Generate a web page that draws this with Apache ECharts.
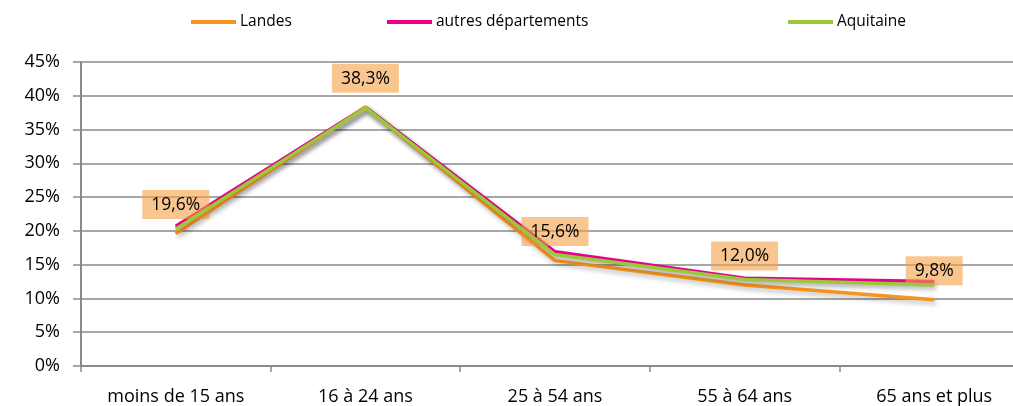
<!DOCTYPE html>
<html>
<head>
<meta charset="utf-8">
<script src="https://cdn.jsdelivr.net/npm/echarts@6/dist/echarts.min.js"></script>
<style>
	html, body { margin: 0; padding: 0; background: #fff; }
	#chart { width: 1013px; height: 406px; }
</style>
</head>
<body>
<div id="chart"></div>
<script>
// tranches d'age
let categories = ['moins de 15 ans', '16 à 24 ans', '25 à 54 ans', '55 à 64 ans', '65 ans et plus']
let landes = [19.6, 38.3, 15.6, 12.0, 9.8]
let autres = [20.7, 38.3, 16.9, 13.0, 12.5]
let aquitaine = [20.3, 38.2, 16.5, 12.8, 12.0]
let yTicks = [0, 5, 10, 15, 20, 25, 30, 35, 40, 45]

function _chartLine(id) {
	let font = 'Open Sans'
	let gray = '#8a8a8a'
	let shadow = {
		shadowColor: 'rgba(0,0,0,0.28)',
		shadowBlur: 5,
		shadowOffsetX: 2,
		shadowOffsetY: 3
	}
	function legendItem(name, left) {
		return {
			data: [name],
			left: left,
			top: 14,
			padding: 0,
			icon: 'rect',
			itemWidth: 45,
			itemHeight: 4,
			itemGap: 0,
			textStyle: { color: '#000', fontSize: 15.5, fontFamily: font, padding: [0, 0, 0, -1] }
		}
	}
	let option = {
		animation: false,
		grid: { left: 81, top: 62, width: 948, height: 304, outerBoundsMode: 'none' },
		legend: [
			legendItem('Landes', 191),
			legendItem('autres départements', 387),
			legendItem('Aquitaine', 788)
		],
		xAxis: {
			type: 'category',
			data: categories,
			boundaryGap: true,
			axisLine: { lineStyle: { color: gray, width: 2 } },
			axisTick: { show: true, length: 6, lineStyle: { color: gray, width: 1.5 } },
			axisLabel: { color: '#000', fontSize: 18, fontFamily: font, margin: 22 },
			splitLine: { show: false }
		},
		yAxis: {
			type: 'value',
			min: yTicks[0],
			max: yTicks[yTicks.length - 1],
			interval: 5,
			axisLine: { show: true, lineStyle: { color: gray, width: 2 } },
			axisTick: { show: true, length: 8, lineStyle: { color: gray, width: 1.5 } },
			axisLabel: {
				color: '#000',
				fontSize: 18,
				fontFamily: font,
				margin: 21,
				formatter: function (v) { return v + '%' }
			},
			splitLine: { show: true, lineStyle: { color: gray, width: 1.5 } }
		},
		series: [
			{
				name: 'Landes',
				type: 'line',
				data: landes,
				z: 3,
				symbol: 'circle',
				symbolSize: 1,
				itemStyle: { color: '#F7941D' },
				lineStyle: Object.assign({ width: 3.5, color: '#F7941D' }, shadow),
				label: {
					show: true,
					position: 'top',
					distance: 14,
					color: '#000',
					fontSize: 17.5,
					fontFamily: font,
					backgroundColor: 'rgba(247,160,70,0.6)',
					padding: [6, 9, 5, 9],
					formatter: function (p) { return p.value.toFixed(1).replace('.', ',') + '%' }
				}
			},
			{
				name: 'autres départements',
				type: 'line',
				data: autres,
				z: 2,
				symbol: 'circle',
				symbolSize: 1,
				itemStyle: { color: '#EC008C' },
				lineStyle: Object.assign({ width: 3.5, color: '#EC008C' }, shadow)
			},
			{
				name: 'Aquitaine',
				type: 'line',
				data: aquitaine,
				z: 4,
				symbol: 'circle',
				symbolSize: 1,
				itemStyle: { color: '#9BC83A' },
				lineStyle: Object.assign({ width: 3.5, color: '#9BC83A' }, shadow)
			}
		]
	}
	let myChart = echarts.init(document.getElementById(id))
	myChart.setOption(option)
	return myChart
}

_chartLine('chart')
</script>
</body>
</html>
